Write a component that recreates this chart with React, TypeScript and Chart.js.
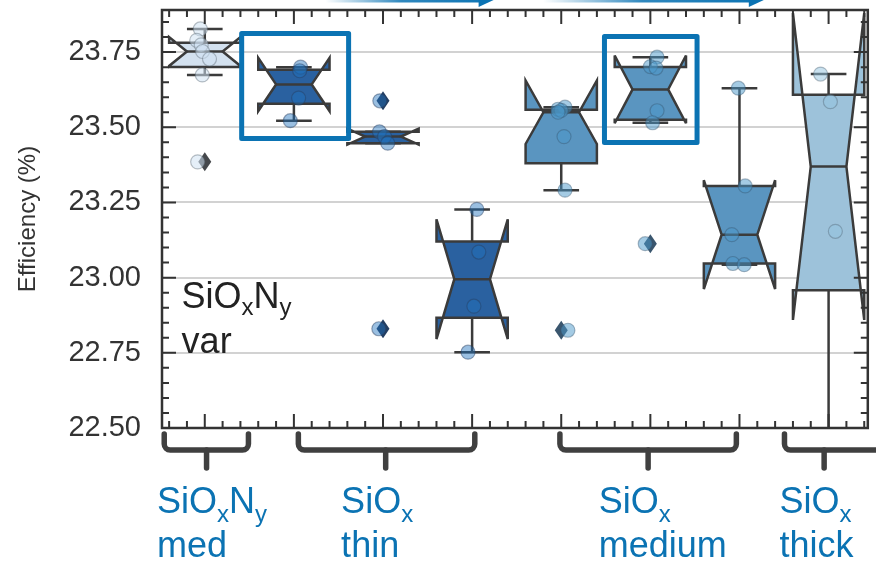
import React, { useEffect, useRef } from 'react';
import { Chart, registerables } from 'chart.js';

Chart.register(...registerables);

// ---------------- data ----------------
const groupPositions = [0, 1, 2, 3, 4, 5, 6, 7];

const efficiency0 = [23.827, 23.789, 23.774, 23.752, 23.727, 23.674, 23.385];
const efficiency1 = [23.700, 23.688, 23.597, 23.522];
const efficiency2 = [23.588, 23.485, 23.469, 23.447, 22.830];
const efficiency3 = [23.227, 23.085, 22.905, 22.752];
const efficiency4 = [23.567, 23.560, 23.556, 23.550, 23.469, 23.291, 22.825];
const efficiency5 = [23.733, 23.702, 23.697, 23.555, 23.515, 23.113];
const efficiency6 = [23.630, 23.305, 23.143, 23.047, 23.043];
const efficiency7 = [23.677, 23.585, 23.154, 22.370];

// horizontal strip jitter (category units)
const jitter0 = [-0.05, -0.09, -0.04, -0.025, 0.053, -0.028, -0.08];
const jitter1 = [0.075, 0.065, 0.053, -0.04];
const jitter2 = [-0.036, -0.04, 0.017, 0.053, -0.047];
const jitter3 = [0.053, 0.075, 0.02, -0.046];
const jitter4 = [0.042, -0.036, 0.0, -0.036, 0.031, 0.042, 0.075];
const jitter5 = [0.075, 0.0, 0.064, 0.075, 0.025, -0.058];
const jitter6 = [-0.013, 0.064, -0.086, -0.074, 0.053];
const jitter7 = [-0.09, 0.02, 0.076, 0.0];

const groupValues = [efficiency0, efficiency1, efficiency2, efficiency3, efficiency4, efficiency5, efficiency6, efficiency7];
const groupJitter = [jitter0, jitter1, jitter2, jitter3, jitter4, jitter5, jitter6, jitter7];

const yTickValues = [22.5, 22.75, 23.0, 23.25, 23.5, 23.75];
const yAxisTitle = 'Efficiency (%)';

const innerLabel = ['SiO_xN_y', 'var'];
const groupLabels = [
  ['SiO_xN_y', 'med'],
  ['SiO_x', 'thin'],
  ['SiO_x', 'medium'],
  ['SiO_x', 'thick'],
];

// ---------------- layout / style ----------------
const X_MIN = -0.48;
const X_MAX = 7.44;
const Y_MIN = 22.5;
const Y_MAX = 23.89;
const BOX_WIDTH = 0.8;
const FAMILY = "'Liberation Sans', Arial, Helvetica, sans-serif";
const LINE = '#3b3b3b';
const AXIS = '#333333';
const BLUE = '#0b73b3';

const boxColors = ['#d3e1ef', '#2a61a0', '#2a61a0', '#2a61a0', '#5a95c0', '#5a95c0', '#5a95c0', '#9dc2da'];
const pointFill = [
  'rgba(208,225,242,0.55)',
  'rgba(30,112,188,0.45)', 'rgba(30,112,188,0.45)', 'rgba(30,112,188,0.45)',
  'rgba(74,152,201,0.5)', 'rgba(74,152,201,0.5)', 'rgba(74,152,201,0.5)',
  'rgba(148,196,223,0.5)',
];
const pointEdge = [
  'rgba(100,112,125,0.45)',
  'rgba(40,62,95,0.45)', 'rgba(40,62,95,0.45)', 'rgba(40,62,95,0.45)',
  'rgba(55,85,110,0.4)', 'rgba(55,85,110,0.4)', 'rgba(55,85,110,0.4)',
  'rgba(80,100,115,0.4)',
];
const flierColors = ['#45484c', '#233f63', '#233f63', '#233f63', '#3a566e', '#3a566e', '#3a566e', '#3a566e'];

// annotation geometry (data units)
const highlightBoxes = [
  [0.414, 1.614, 23.812, 23.463],
  [4.485, 5.524, 23.802, 23.449],
];
const brackets = [
  [-0.455, 0.49, 0.02],
  [1.05, 3.03, 2.03],
  [3.985, 5.965, 4.975],
  [6.505, 7.6, 6.95],
];
const labelX = [-0.535, 1.53, 4.42, 6.45];
const arrows = [
  [1.353, 3.241],
  [3.796, 6.273],
];
const innerLabelPos = [-0.26, 22.9];

// ---------------- helpers ----------------
function boxStats(vals: number[]) {
  const s = [...vals].sort((a, b) => a - b);
  const n = s.length;
  const pct = (p: number) => {
    const pos = (n - 1) * p;
    const lo = Math.floor(pos);
    const hi = Math.ceil(pos);
    return s[lo] + (s[hi] - s[lo]) * (pos - lo);
  };
  const q1 = pct(0.25);
  const med = pct(0.5);
  const q3 = pct(0.75);
  const iqr = q3 - q1;
  const ci = (1.57 * iqr) / Math.sqrt(n);
  const loLim = q1 - 1.5 * iqr;
  const hiLim = q3 + 1.5 * iqr;
  const lows = s.filter((v) => v >= loLim);
  let whislo = lows.length ? Math.min(...lows) : q1;
  if (whislo > q1) whislo = q1;
  const highs = s.filter((v) => v <= hiLim);
  let whishi = highs.length ? Math.max(...highs) : q3;
  if (whishi < q3) whishi = q3;
  const fliers = s.filter((v) => v < whislo || v > whishi);
  return { q1, med, q3, cilo: med - ci, cihi: med + ci, whislo, whishi, fliers };
}

function drawRich(ctx: CanvasRenderingContext2D, str: string, x: number, y: number, size: number, subSize: number, subDy: number) {
  let cx = x;
  for (let i = 0; i < str.length; i++) {
    if (str[i] === '_' && i + 1 < str.length) {
      const ch = str[i + 1];
      ctx.font = `${subSize}px ${FAMILY}`;
      ctx.fillText(ch, cx, y + subDy);
      cx += ctx.measureText(ch).width;
      i++;
    } else {
      ctx.font = `${size}px ${FAMILY}`;
      ctx.fillText(str[i], cx, y);
      cx += ctx.measureText(str[i]).width;
    }
  }
}

const boxPlugin = {
  id: 'notchedBoxes',
  beforeDatasetsDraw(chart: any) {
    const { ctx, chartArea, scales } = chart;
    const xs = scales.x;
    const ys = scales.y;
    const X = (v: number) => xs.getPixelForValue(v);
    const Y = (v: number) => ys.getPixelForValue(v);
    ctx.save();
    ctx.beginPath();
    ctx.rect(chartArea.left, chartArea.top, chartArea.right - chartArea.left, chartArea.bottom - chartArea.top);
    ctx.clip();
    groupValues.forEach((vals, i) => {
      const st = boxStats(vals);
      const c = groupPositions[i];
      const hw = BOX_WIDTH / 2;
      const L = c - hw, R = c + hw, nl = c - hw / 2, nr = c + hw / 2;
      ctx.strokeStyle = LINE;
      ctx.lineWidth = 2.5;
      ctx.lineCap = 'butt';
      const seg = (x1: number, y1: number, x2: number, y2: number) => {
        ctx.beginPath();
        ctx.moveTo(X(x1), Y(y1));
        ctx.lineTo(X(x2), Y(y2));
        ctx.stroke();
      };
      // whiskers + caps
      seg(c, st.q1, c, st.whislo);
      seg(c, st.q3, c, st.whishi);
      seg(nl, st.whislo, nr, st.whislo);
      seg(nl, st.whishi, nr, st.whishi);
      // notched box
      const pts: number[][] = [
        [L, st.q1], [R, st.q1], [R, st.cilo], [nr, st.med], [R, st.cihi], [R, st.q3],
        [L, st.q3], [L, st.cihi], [nl, st.med], [L, st.cilo],
      ];
      ctx.beginPath();
      pts.forEach((p, k) => (k === 0 ? ctx.moveTo(X(p[0]), Y(p[1])) : ctx.lineTo(X(p[0]), Y(p[1]))));
      ctx.closePath();
      ctx.fillStyle = boxColors[i];
      ctx.fill();
      ctx.lineJoin = 'miter';
      ctx.miterLimit = 4;
      ctx.stroke();
      // median
      seg(nl, st.med, nr, st.med);
      // fliers (thin diamonds)
      ctx.fillStyle = flierColors[i];
      st.fliers.forEach((f) => {
        const px = X(c);
        const py = Y(f);
        ctx.beginPath();
        ctx.moveTo(px, py - 9.5);
        ctx.lineTo(px + 6.5, py);
        ctx.lineTo(px, py + 9.5);
        ctx.lineTo(px - 6.5, py);
        ctx.closePath();
        ctx.fill();
      });
    });
    ctx.restore();
  },
};

const overlayPlugin = {
  id: 'overlay',
  afterDraw(chart: any) {
    const { ctx, chartArea, scales } = chart;
    const xs = scales.x;
    const ys = scales.y;
    const X = (v: number) => xs.getPixelForValue(v);
    const Y = (v: number) => ys.getPixelForValue(v);
    const { left, right, top, bottom } = chartArea;
    ctx.save();

    // ticks (inward)
    ctx.strokeStyle = AXIS;
    ctx.lineWidth = 2;
    ctx.lineCap = 'butt';
    for (let k = -2; k <= 37; k++) {
      const v = k * 0.2;
      if (v < X_MIN || v > X_MAX) continue;
      const len = k % 5 === 0 ? 14 : 7;
      const px = X(v);
      ctx.beginPath();
      ctx.moveTo(px, bottom);
      ctx.lineTo(px, bottom - len);
      ctx.moveTo(px, top);
      ctx.lineTo(px, top + len);
      ctx.stroke();
    }
    for (let k = 0; k <= 30; k++) {
      const v = Y_MIN + k * 0.05;
      if (v > Y_MAX) break;
      const len = k % 5 === 0 ? 14 : 7;
      const py = Y(v);
      ctx.beginPath();
      ctx.moveTo(left, py);
      ctx.lineTo(left + len, py);
      ctx.moveTo(right, py);
      ctx.lineTo(right - len, py);
      ctx.stroke();
    }
    // spines
    ctx.lineWidth = 2.5;
    ctx.strokeRect(left, top, right - left, bottom - top);

    // inner annotation text
    ctx.fillStyle = '#222222';
    ctx.textBaseline = 'alphabetic';
    ctx.textAlign = 'left';
    drawRich(ctx, innerLabel[0], X(innerLabelPos[0]), Y(innerLabelPos[1]), 36, 24, 7);
    drawRich(ctx, innerLabel[1], X(innerLabelPos[0]), Y(innerLabelPos[1]) + 45, 36, 24, 7);

    // highlight rectangles
    ctx.strokeStyle = BLUE;
    ctx.lineWidth = 5;
    ctx.lineJoin = 'round';
    highlightBoxes.forEach(([x1, x2, y1, y2]) => {
      ctx.beginPath();
      ctx.rect(X(x1), Y(y1), X(x2) - X(x1), Y(y2) - Y(y1));
      ctx.stroke();
    });

    // brackets below the axis
    ctx.strokeStyle = '#404040';
    ctx.lineWidth = 5.5;
    ctx.lineCap = 'round';
    ctx.lineJoin = 'round';
    const bt = bottom + 6, bh = bottom + 22, bs = bottom + 40, r = 6;
    brackets.forEach(([a, b, m]) => {
      const xa = X(a), xb = X(b), xm = X(m);
      ctx.beginPath();
      ctx.moveTo(xa, bt);
      ctx.arcTo(xa, bh, xa + r, bh, r);
      ctx.arcTo(xb, bh, xb, bh - r, r);
      ctx.lineTo(xb, bt);
      ctx.stroke();
      ctx.beginPath();
      ctx.moveTo(xm, bh);
      ctx.lineTo(xm, bs);
      ctx.stroke();
    });

    // group labels
    ctx.fillStyle = BLUE;
    groupLabels.forEach((lines, i) => {
      const lx = X(labelX[i]);
      drawRich(ctx, lines[0], lx, bottom + 85, 36, 24, 9);
      drawRich(ctx, lines[1], lx, bottom + 129, 36, 24, 9);
    });

    // arrows at the top (cropped)
    arrows.forEach(([a, b]) => {
      const xa = X(a), xb = X(b);
      const grad = ctx.createLinearGradient(xa, 0, xb, 0);
      grad.addColorStop(0, 'rgba(11,115,179,0)');
      grad.addColorStop(0.45, 'rgba(11,115,179,0.85)');
      grad.addColorStop(1, 'rgba(11,115,179,1)');
      ctx.strokeStyle = grad;
      ctx.lineWidth = 5;
      ctx.lineCap = 'butt';
      ctx.beginPath();
      ctx.moveTo(xa, 0);
      ctx.lineTo(xb - 12, 0);
      ctx.stroke();
      ctx.fillStyle = BLUE;
      ctx.beginPath();
      ctx.moveTo(xb, 0);
      ctx.lineTo(xb - 15, -7);
      ctx.lineTo(xb - 15, 7);
      ctx.closePath();
      ctx.fill();
    });

    ctx.restore();
  },
};

export default function App() {
  const canvasRef = useRef<HTMLCanvasElement | null>(null);

  useEffect(() => {
    const canvas = canvasRef.current;
    if (!canvas) return;
    const datasets = groupValues.map((vals, i) => ({
      label: `group${i}`,
      data: vals.map((v, k) => ({ x: groupPositions[i] + groupJitter[i][k], y: v })),
      pointRadius: 7,
      pointBorderWidth: 1.2,
      backgroundColor: pointFill[i],
      borderColor: pointEdge[i],
      pointBackgroundColor: pointFill[i],
      pointBorderColor: pointEdge[i],
      showLine: false,
    }));
    const chart = new Chart(canvas, {
      type: 'scatter',
      data: { datasets },
      options: {
        animation: false,
        responsive: false,
        devicePixelRatio: 1,
        events: [],
        layout: { padding: { top: 10, right: 1, bottom: 138, left: 0 } },
        plugins: { legend: { display: false }, tooltip: { enabled: false } },
        scales: {
          x: { type: 'linear', min: X_MIN, max: X_MAX, display: false },
          y: {
            type: 'linear',
            position: 'left',
            min: Y_MIN,
            max: Y_MAX,
            afterBuildTicks: (s: any) => {
              s.ticks = yTickValues.map((v) => ({ value: v }));
            },
            afterFit: (s: any) => {
              s.width = 162;
              s.paddingTop = 0;
              s.paddingBottom = 0;
            },
            grid: { color: '#d2d2d2', lineWidth: 2, drawTicks: false },
            border: { display: false },
            ticks: {
              padding: 21,
              color: AXIS,
              font: { size: 29, family: FAMILY },
              callback: (v: any) => Number(v).toFixed(2),
            },
            title: {
              display: true,
              text: yAxisTitle,
              color: AXIS,
              font: { size: 24, family: FAMILY },
              padding: { top: 14, bottom: 0 },
            },
          },
        },
      } as any,
      plugins: [boxPlugin, overlayPlugin],
    });
    return () => chart.destroy();
  }, []);

  return (
    <div style={{ position: 'fixed', left: 0, top: 0, width: 876, height: 566, background: '#ffffff' }}>
      <canvas ref={canvasRef} width={876} height={566} style={{ display: 'block', width: 876, height: 566 }} />
    </div>
  );
}
